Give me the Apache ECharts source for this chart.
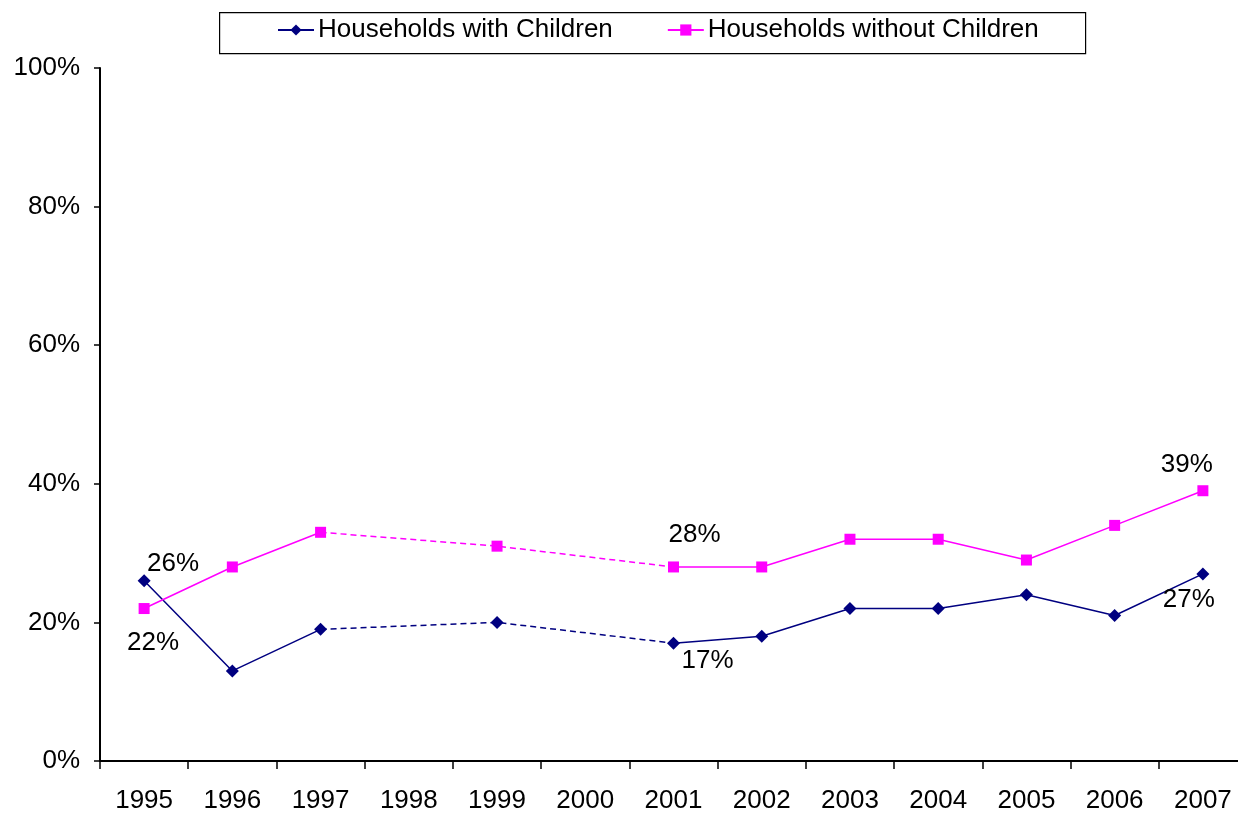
<!DOCTYPE html>
<html>
<head>
<meta charset="utf-8">
<title>Households with and without Children</title>
<script src="https://cdn.jsdelivr.net/npm/echarts@6/dist/echarts.min.js"></script>
<style>
  html, body { margin: 0; padding: 0; background: #fff; overflow: hidden; }
  /* the plot runs slightly past the right edge of the page */
  #chart { width: 1247px; height: 814px; }
</style>
</head>
<body>
<div id="chart"></div>
<script>
// Survey years on the category axis
const years = ['1995', '1996', '1997', '1998', '1999', '2000', '2001', '2002', '2003', '2004', '2005', '2006', '2007'];

// Share of households (%); no survey in 1998 and 2000
const withChildren    = [26, 13, 19, null, 20, null, 17, 18, 22, 22, 24, 21, 27];
const withoutChildren = [22, 28, 33, null, 31, null, 28, 28, 32, 32, 29, 34, 39];

// Years bridged by a dashed line across the missing surveys
const bridgeYears = ['1997', '1999', '2001'];

// Points that carry a value label, with the label's offset from the marker
const withLabels    = { '1995': [29, -17], '2001': [34, 18], '2007': [-14, 26] };
const withoutLabels = { '1995': [9, 34],  '2001': [21, -32], '2007': [-16, -26] };

const yTicks = { min: 0, max: 100, interval: 20 };

const NAVY = '#000080';
const MAGENTA = '#FF00FF';
const FONT = 'Liberation Sans, Arial, sans-serif';
const FONT_SIZE = 26;

function pointData(values, labels) {
  return values.map(function (v, i) {
    const off = labels[years[i]];
    if (v === null) return '-';
    if (!off) return v;
    return {
      value: v,
      label: {
        show: true,
        position: 'inside',
        offset: off,
        formatter: v + '%',
        color: '#000',
        fontSize: FONT_SIZE,
        fontFamily: FONT
      }
    };
  });
}

function bridgeData(values) {
  return values.map(function (v, i) {
    return bridgeYears.indexOf(years[i]) >= 0 ? v : '-';
  });
}

const chart = echarts.init(document.getElementById('chart'), null, { renderer: 'canvas' });

chart.setOption({
  animation: false,
  backgroundColor: '#fff',
  textStyle: { fontFamily: FONT },
  graphic: [{
    type: 'rect',
    left: 219,
    top: 12,
    shape: { width: 866, height: 41 },
    style: { fill: '#fff', stroke: '#000', lineWidth: 1.2 },
    z: -1
  }],
  legend: {
    left: 277,
    top: 12,
    padding: [5, 0, 5, 0],
    itemWidth: 36,
    itemHeight: 14,
    itemGap: 54,
    selectedMode: false,
    textStyle: { fontSize: FONT_SIZE, color: '#000', fontFamily: FONT, padding: [0, 0, 0, -1] },
    data: ['Households with Children', 'Households without Children']
  },
  grid: {
    left: 100,
    top: 68,
    right: 0,
    bottom: 52,
    containLabel: false
  },
  xAxis: {
    type: 'category',
    data: years,
    boundaryGap: true,
    axisLine: { show: true, lineStyle: { color: '#000', width: 2 } },
    axisTick: { show: true, inside: false, length: 8, lineStyle: { color: '#000', width: 1.5 } },
    axisLabel: { color: '#000', fontSize: FONT_SIZE, fontFamily: FONT, margin: 27, interval: 0 },
    splitLine: { show: false }
  },
  yAxis: {
    type: 'value',
    min: yTicks.min,
    max: yTicks.max,
    interval: yTicks.interval,
    axisLine: { show: true, lineStyle: { color: '#000', width: 2 } },
    axisTick: { show: true, inside: false, length: 6, lineStyle: { color: '#000', width: 1.5 } },
    axisLabel: { color: '#000', fontSize: FONT_SIZE, fontFamily: FONT, margin: 20, formatter: '{value}%' },
    splitLine: { show: false }
  },
  series: [
    {
      name: 'Households with Children',
      type: 'line',
      data: pointData(withChildren, withLabels),
      connectNulls: false,
      symbol: 'diamond',
      symbolSize: 13,
      showSymbol: true,
      showAllSymbol: true,
      color: NAVY,
      lineStyle: { color: NAVY, width: 1.5 },
      itemStyle: { color: NAVY },
      z: 3
    },
    {
      name: 'Households without Children',
      type: 'line',
      data: pointData(withoutChildren, withoutLabels),
      connectNulls: false,
      symbol: 'rect',
      symbolSize: 11,
      showSymbol: true,
      showAllSymbol: true,
      color: MAGENTA,
      lineStyle: { color: MAGENTA, width: 1.5 },
      itemStyle: { color: MAGENTA },
      z: 3
    },
    {
      name: 'with-children-bridge',
      type: 'line',
      data: bridgeData(withChildren),
      connectNulls: true,
      symbol: 'none',
      lineStyle: { color: NAVY, width: 1.5, type: [6, 4] },
      silent: true,
      z: 2
    },
    {
      name: 'without-children-bridge',
      type: 'line',
      data: bridgeData(withoutChildren),
      connectNulls: true,
      symbol: 'none',
      lineStyle: { color: MAGENTA, width: 1.5, type: [6, 4] },
      silent: true,
      z: 2
    }
  ]
});
</script>
</body>
</html>
